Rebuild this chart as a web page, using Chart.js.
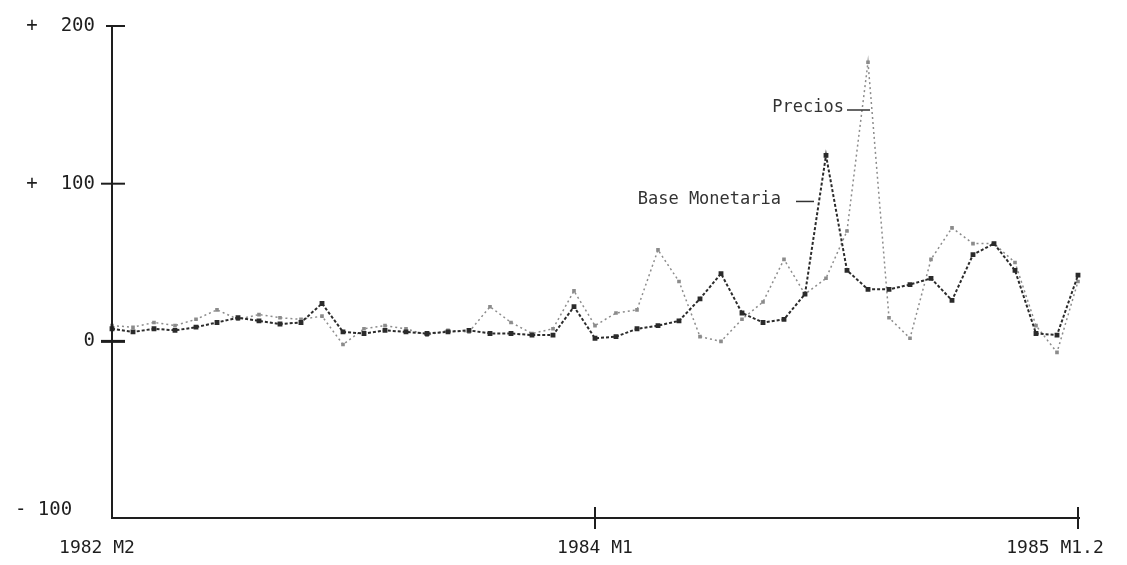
<html>
  <head>
    <title>Base Monetaria y Precios</title>
    <style>
      body { margin: 0; background: #fff; }
      .wrap { width: 1127px; height: 565px; position: relative; }
    </style>
  </head>
  <body>
    <script src="https://cdn.jsdelivr.net/npm/chart.js@4.4.1/dist/chart.umd.min.js"></script>
    <div class="wrap">
      <canvas id="myChart"></canvas>
    </div>
  <script>
    // monthly, 1982 M2 .. 1985 M12
    const months = [];
    for (let y = 1982; y <= 1985; y++) {
      for (let m = (y === 1982 ? 2 : 1); m <= 12; m++) months.push(y + " M" + m);
    }

    // values
    const baseMonetaria = [8, 6, 8, 7, 9, 12, 15, 13, 11, 12, 24, 6, 5, 7, 6, 5, 6, 7, 5, 5, 4, 4, 22, 2,
                           3, 8, 10, 13, 27, 43, 18, 12, 14, 30, 118, 45, 33, 33, 36, 40, 26, 55, 62, 45, 5, 4, 42];
    const precios = [10, 9, 12, 10, 14, 20, 14, 17, 15, 14, 16, -2, 8, 10, 8, 4, 7, 6, 22, 12, 5, 8, 32, 10,
                     18, 20, 58, 38, 3, 0, 14, 25, 52, 30, 40, 70, 177, 15, 2, 52, 72, 62, 62, 50, 10, -7, 38];

    const yTicks = [-100, 0, 100, 200];
    // the -100 label sits a bit low on the original, hence the empty first line
    const yTickText = [["", "- 100  "], "0", "+  100", "+  200"];
    const xTickIndex = [0, 23, 46];
    const xTickText = ["1982 M2", "1984 M1", "1985 M1.2"];

    const MONO = "'DejaVu Sans Mono', 'Liberation Mono', monospace";
    const INK = "#1e1e1e";

    // axes, crossing ticks, x labels and the two series labels
    const printerAxes = {
      id: "printerAxes",
      afterDraw(chart) {
        const { ctx, chartArea: a, scales } = chart;
        const x = scales.x, y = scales.y;
        ctx.save();
        ctx.strokeStyle = INK;
        ctx.lineWidth = 2;
        ctx.beginPath();
        ctx.moveTo(a.left, a.top);
        ctx.lineTo(a.left, a.bottom);
        ctx.lineTo(a.right + 2, a.bottom);
        ctx.stroke();

        // y ticks
        [200, 100, 0].forEach(v => {
          const py = y.getPixelForValue(v);
          ctx.beginPath();
          ctx.moveTo(a.left - (v === 200 ? 6 : 11), py);
          ctx.lineTo(a.left + 13, py);
          ctx.lineWidth = v === 0 ? 3 : 2;
          ctx.stroke();
        });
        // x ticks
        ctx.lineWidth = 2;
        [23, 46].forEach(i => {
          const px = x.getPixelForValue(i);
          ctx.beginPath();
          ctx.moveTo(px, a.bottom - 11);
          ctx.lineTo(px, a.bottom + 11);
          ctx.stroke();
        });

        ctx.fillStyle = INK;
        ctx.font = "18px " + MONO;
        ctx.textBaseline = "middle";
        const shift = [-15, 0, -23];
        xTickIndex.forEach((i, k) => {
          ctx.textAlign = "center";
          ctx.fillText(xTickText[k], x.getPixelForValue(i) + shift[k], a.bottom + 30);
        });

        // series labels with leader dashes
        ctx.font = "17px " + MONO;
        ctx.fillStyle = "#333";
        ctx.strokeStyle = "#333";
        ctx.lineWidth = 1.5;
        ctx.textAlign = "right";
        const pX = x.getPixelForValue(36), pY = y.getPixelForValue(148);
        ctx.fillText("Precios", pX - 24, pY);
        ctx.beginPath(); ctx.moveTo(pX - 21, pY + 2); ctx.lineTo(pX + 2, pY + 2); ctx.stroke();
        const bX = x.getPixelForValue(33), bY = y.getPixelForValue(90);
        ctx.fillText("Base Monetaria", bX - 24, bY);
        ctx.beginPath(); ctx.moveTo(bX - 9, bY + 2); ctx.lineTo(bX + 9, bY + 2); ctx.stroke();
        ctx.restore();
      }
    };

    const config = {
      type: "line",
      data: {
        labels: months,
        datasets: [
          {
            label: "Base Monetaria",
            data: baseMonetaria,
            borderColor: "#2b2b2b",
            backgroundColor: "#2b2b2b",
            borderWidth: 2,
            borderDash: [3, 2],
            pointStyle: "rect",
            pointRadius: 2,
            tension: 0,
          },
          {
            label: "Precios",
            data: precios,
            borderColor: "#8c8c8c",
            backgroundColor: "#8c8c8c",
            borderWidth: 1.5,
            borderDash: [2, 3],
            pointStyle: "rect",
            pointRadius: 1.5,
            tension: 0,
          }
        ]
      },
      options: {
        responsive: true,
        maintainAspectRatio: false,
        animation: false,
        layout: { padding: { top: 26, right: 49, left: 0, bottom: 0 } },
        plugins: {
          legend: { display: false },
          title: { display: false },
          tooltip: { enabled: false },
        },
        scales: {
          x: {
            offset: false,
            grid: { display: false },
            border: { display: false },
            ticks: { display: false },
            afterFit: (s) => { s.height = 47; },
          },
          y: {
            min: -112,
            max: 200,
            grid: { display: false },
            border: { display: false },
            afterFit: (s) => { s.width = 112; },
            afterBuildTicks: (s) => { s.ticks = yTicks.map(v => ({ value: v })); },
            ticks: {
              padding: 9,
              color: INK,
              font: { family: MONO, size: 19 },
              callback: (v) => yTickText[yTicks.indexOf(v)],
            },
          },
        },
      },
      plugins: [printerAxes],
    };

    const ctx = document.getElementById("myChart");
    let myChart = new Chart(ctx, config);
  </script>
  </body>
</html>
